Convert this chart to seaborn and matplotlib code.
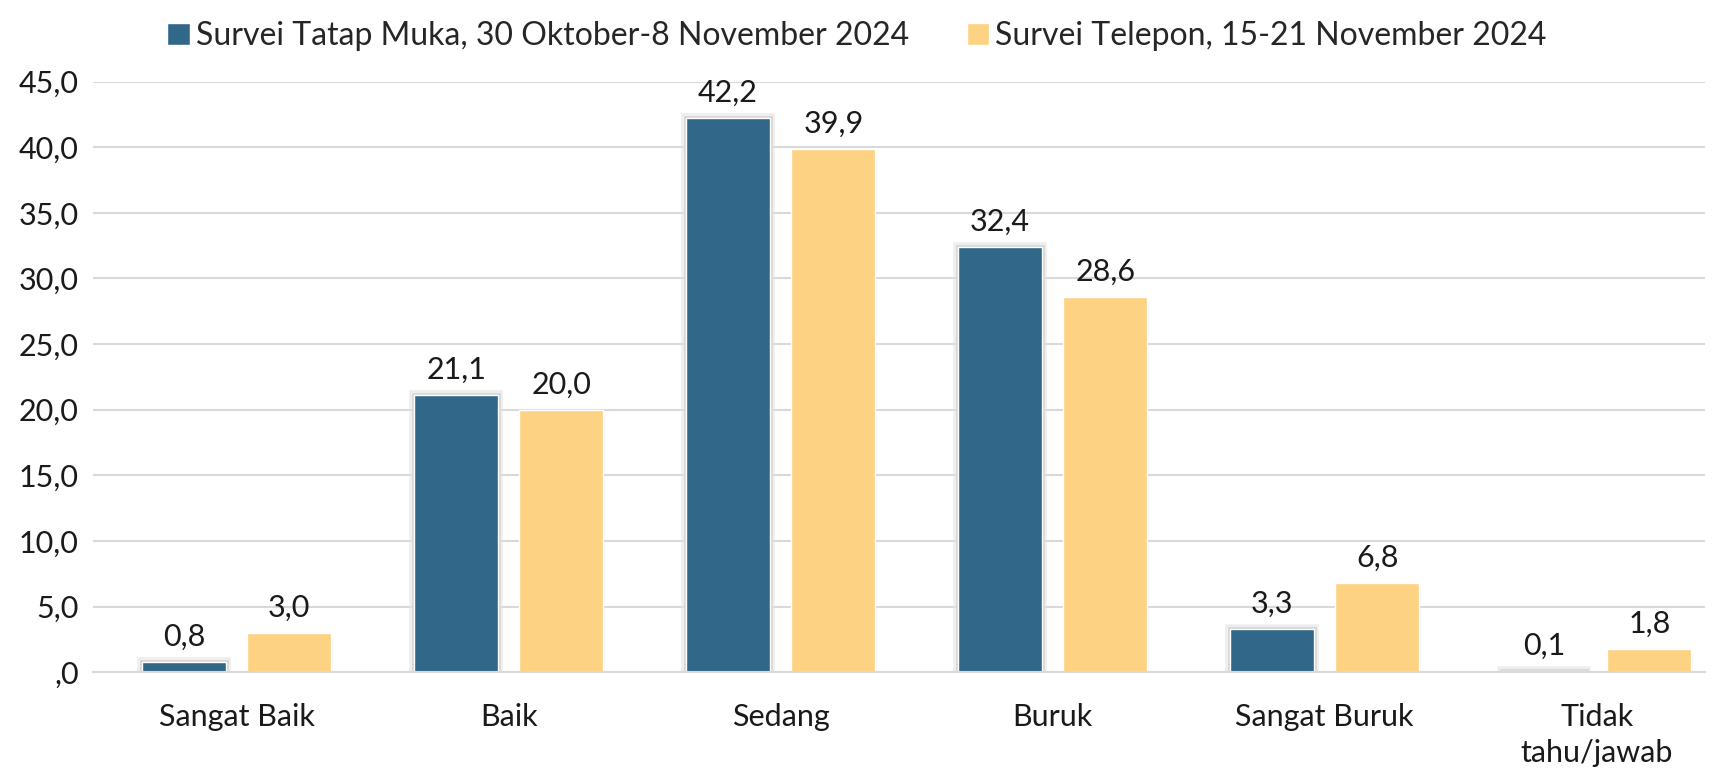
import matplotlib
matplotlib.use('Agg')
import matplotlib.pyplot as plt
import matplotlib.patheffects as pe
from matplotlib.patches import Patch
import seaborn as sns
import pandas as pd

# Data
categories = ['Sangat Baik', 'Baik', 'Sedang', 'Buruk', 'Sangat Buruk', 'Tidak\ntahu/jawab']
series_names = ['Survei Tatap Muka, 30 Oktober-8 November 2024',
                'Survei Telepon, 15-21 November 2024']
tatap_muka = [0.8, 21.1, 42.2, 32.4, 3.3, 0.1]
telepon = [3.0, 20.0, 39.9, 28.6, 6.8, 1.8]
y_ticks = [0, 5, 10, 15, 20, 25, 30, 35, 40, 45]
y_tick_labels = [',0', '5,0', '10,0', '15,0', '20,0', '25,0', '30,0', '35,0', '40,0', '45,0']

colors = ['#31688A', '#FDD283']

df = pd.DataFrame({
    'kategori': categories * 2,
    'survei': [series_names[0]] * len(categories) + [series_names[1]] * len(categories),
    'persen': tatap_muka + telepon,
})

sns.set_style('white')
plt.rcParams['font.family'] = ['Lato', 'DejaVu Sans']

fig = plt.figure(figsize=(17.14, 7.7), dpi=100)
ax = fig.add_axes([0.054, 0.127, 0.941, 0.767])

sns.barplot(data=df, x='kategori', y='persen', hue='survei', hue_order=series_names,
            palette=colors, width=0.774, gap=0.2, saturation=1, ax=ax, legend=False)

# soft grey halo round the dark bars, like the original
for bar in ax.containers[0]:
    bar.set_path_effects([pe.Stroke(linewidth=7, foreground='#e4e4e4', alpha=0.6),
                          pe.Stroke(linewidth=3.5, foreground='#cfcfcf', alpha=0.7),
                          pe.Normal()])

# value labels with comma decimals
for cont, vals in zip(ax.containers, [tatap_muka, telepon]):
    ax.bar_label(cont, labels=[f'{v:.1f}'.replace('.', ',') for v in vals],
                 padding=8, fontsize=22, color='#1a1a1a')

ax.set_ylim(0, 45)
ax.set_xlim(-0.53, 5.4)
ax.set_yticks(y_ticks)
ax.set_yticklabels(y_tick_labels)
ax.yaxis.grid(True, color='#d9d9d9', linewidth=1.5)
ax.set_axisbelow(True)
for s in ['top', 'right', 'left']:
    ax.spines[s].set_visible(False)
ax.spines['bottom'].set_color('#d9d9d9')
ax.spines['bottom'].set_linewidth(1.5)
ax.tick_params(axis='both', length=0, labelsize=22, colors='#1a1a1a')
ax.tick_params(axis='x', pad=22)
ax.tick_params(axis='y', pad=10)
ax.set_xlabel('')
ax.set_ylabel('')
for lbl in ax.get_xticklabels():
    lbl.set_linespacing(1.35)

handles = [Patch(facecolor=c, label=n) for c, n in zip(colors, series_names)]
fig.legend(handles=handles, loc='upper center', bbox_to_anchor=(0.5, 1.01), ncol=2,
           frameon=False, fontsize=23, handlelength=0.7, handleheight=0.7,
           handletextpad=0.2, columnspacing=1.8)

fig.savefig('out.png', dpi=100)
